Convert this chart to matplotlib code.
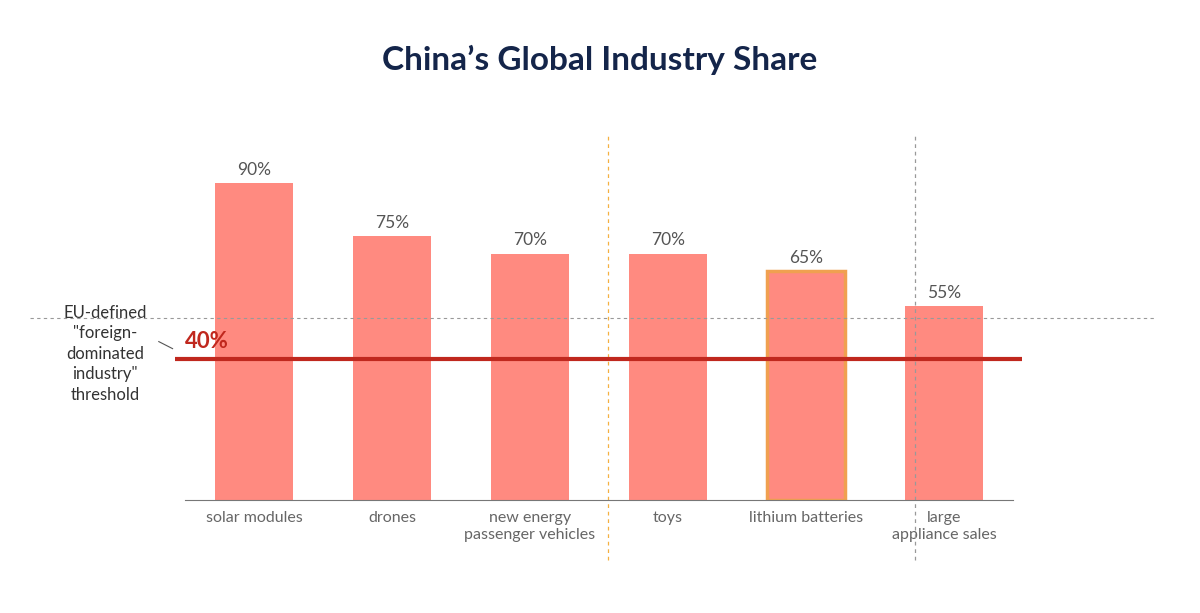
import matplotlib
matplotlib.use("Agg")
import matplotlib.pyplot as plt

categories = ["solar modules", "drones", "new energy\npassenger vehicles", "toys", "lithium batteries", "large\nappliance sales"]
values = [90, 75, 70, 70, 65, 55]
labels = ["90%", "75%", "70%", "70%", "65%", "55%"]
threshold = 40

plt.rcParams['font.family'] = ['Lato', 'DejaVu Sans']
fig = plt.figure(figsize=(12, 6.13), dpi=100)
W, H = 1200, 613
ax = fig.add_axes([185/W, 113/H, (1013-185)/W, 352/H])
ax.set_xlim(-0.5, 5.5)
ax.set_ylim(0, 100)
x = list(range(len(values)))
for i, v in enumerate(values):
    ec = '#f0a050' if i == 4 else 'none'
    ax.bar(i, v, width=0.56, color='#ff8a80', edgecolor=ec, linewidth=2.5 if i == 4 else 0)
    ax.text(i, v + 1.5, labels[i], ha='center', va='bottom', fontsize=12.5, color='#555555')
for s in ['top', 'right', 'left']:
    ax.spines[s].set_visible(False)
ax.spines['bottom'].set_color('#777777')
ax.set_yticks([])
ax.set_xticks(x)
ax.set_xticklabels(categories, fontsize=11.5, color='#666666', linespacing=1.3)
ax.tick_params(axis='x', length=0, pad=8)
ax.vlines(x=[2.565], ymin=-17, ymax=103.7, colors='#f5b041', linestyles=(0, (3, 3)), lw=0.9, clip_on=False)
ax.vlines(x=[4.79], ymin=-17, ymax=103.7, colors='#999999', linestyles=(0, (3, 3)), lw=0.9, clip_on=False)
ax.hlines(51.7, -1.62, 6.53, colors='#999999', linestyles=(0, (3, 3)), lw=0.8, clip_on=False)
ax.hlines(threshold, -0.572, 5.565, colors='#c0281e', lw=3, clip_on=False, zorder=5)
ax.text(-0.5, 42.0, "40%", color='#c0281e', fontsize=16, fontweight='bold', ha='left', va='bottom')
ax.plot([-0.69, -0.59], [45.0, 43.0], color='#555555', lw=0.8, clip_on=False)
ax.text(-1.08, 41.5, 'EU-defined\n"foreign-\ndominated\nindustry"\nthreshold', ha='center', va='center',
        fontsize=12, color='#333333', linespacing=1.35)
fig.text(0.5, 1 - 60/H, "China’s Global Industry Share", ha='center', va='center',
         fontsize=24, fontweight='bold', color='#14254a')
fig.savefig("out.png", dpi=100)
